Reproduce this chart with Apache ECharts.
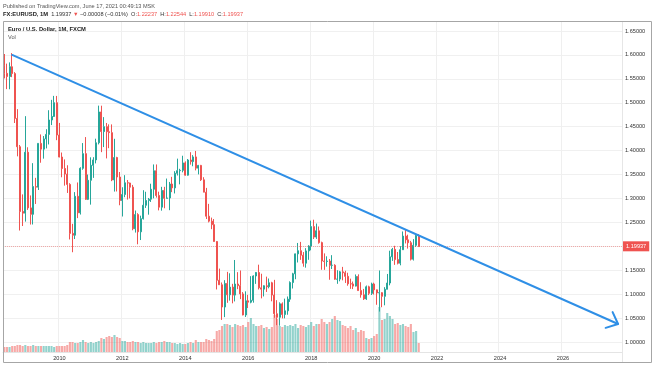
<!DOCTYPE html>
<html><head><meta charset="utf-8">
<script src="https://cdn.jsdelivr.net/npm/echarts@6/dist/echarts.min.js"></script>
<style>html,body{margin:0;padding:0;background:#fff}#c{width:654px;height:366px}</style>
</head><body><div id="c"></div>
<script>
// ---- categories: monthly bars, Apr 2008 .. Nov 2027 (axis runs past the data)
const START_YEAR = 2008, START_MONTH = 4, MONTH_COUNT = 236;
const MONTHS = [];
for (let i = 0; i < MONTH_COUNT; i++) {
  const m = START_MONTH - 1 + i;
  const y = START_YEAR + Math.floor(m / 12);
  const mm = (m % 12) + 1;
  MONTHS.push(y + '-' + (mm < 10 ? '0' : '') + mm);
}
const YEAR_TICKS = ['2010', '2012', '2014', '2016', '2018', '2020', '2022', '2024', '2026'];

// ---- EURUSD monthly OHLC (Apr 2008 .. Jun 2021)
const OPEN = [
  1.5785,1.5615,1.5549,1.5753,1.5610,1.4673,1.4081,1.2728,1.2693,
  1.3967,1.2803,1.2669,1.3249,1.3236,1.4151,1.4031,1.4245,1.4339,1.4640,1.4714,1.5002,
  1.4325,1.3866,1.3626,1.3510,1.3294,1.2270,1.2232,1.3045,1.2700,1.3630,1.3937,1.2981,
  1.3380,1.3693,1.3805,1.4164,1.4808,1.4398,1.4500,1.4395,1.4376,1.3387,1.3855,1.3448,
  1.2957,1.3082,1.3328,1.3323,1.3235,1.2366,1.2663,1.2303,1.2577,1.2858,1.2957,1.2985,
  1.3193,1.3579,1.3062,1.2818,1.3168,1.3003,1.3010,1.3302,1.3221,1.3527,1.3581,1.3588,
  1.3743,1.3487,1.3803,1.3770,1.3868,1.3634,1.3691,1.3390,1.3131,1.2629,1.2526,1.2452,
  1.2100,1.1290,1.1196,1.0731,1.1224,1.0986,1.1147,1.0980,1.1212,1.1177,1.1005,1.0565,
  1.0861,1.0832,1.0871,1.1380,1.1453,1.1132,1.1105,1.1175,1.1157,1.1238,1.0981,1.0590,
  1.0517,1.0798,1.0575,1.0652,1.0895,1.1243,1.1425,1.1842,1.1908,1.1814,1.1647,1.1904,
  1.2005,1.2412,1.2193,1.2324,1.2077,1.1693,1.1683,1.1692,1.1602,1.1604,1.1313,1.1315,
  1.1466,1.1447,1.1372,1.1216,1.1213,1.1168,1.1370,1.1075,1.0987,1.0901,1.1154,1.1017,
  1.1213,1.1090,1.1026,1.1031,1.0955,1.1101,1.1233,1.1780,1.1936,1.1722,1.1646,1.1928,
  1.2214,1.2135,1.2075,1.1730,1.2020,1.22237
];
const HIGH = [
  1.6019,1.5818,1.5844,1.6038,1.5640,1.4867,1.4118,1.3085,1.4720,
  1.4070,1.3063,1.3738,1.3431,1.4152,1.4338,1.4305,1.4447,1.4844,1.5061,1.5144,1.5143,
  1.4579,1.3960,1.3816,1.3694,1.3319,1.2470,1.3133,1.3334,1.3652,1.4158,1.4283,1.3500,
  1.3860,1.3862,1.4249,1.4940,1.4939,1.4700,1.4578,1.4549,1.4548,1.4247,1.3871,1.3553,
  1.3234,1.3487,1.3386,1.3330,1.3283,1.2748,1.2692,1.2640,1.3172,1.3140,1.3010,1.3308,
  1.3711,1.3711,1.3142,1.3243,1.3243,1.3416,1.3345,1.3452,1.3570,1.3832,1.3620,1.3893,
  1.3775,1.3824,1.3967,1.3906,1.3993,1.3701,1.3701,1.3444,1.3221,1.2887,1.2600,1.2570,
  1.2108,1.1534,1.1244,1.1292,1.1466,1.1436,1.1216,1.1714,1.1460,1.1495,1.1043,1.1059,
  1.0986,1.1376,1.1394,1.1464,1.1616,1.1427,1.1185,1.1366,1.1327,1.1258,1.1299,1.0874,
  1.0829,1.0828,1.0906,1.0951,1.1268,1.1446,1.1847,1.2070,1.2092,1.1880,1.1961,1.2023,
  1.2537,1.2556,1.2476,1.2414,1.2097,1.1852,1.1791,1.1734,1.1815,1.1625,1.1500,1.1486,
  1.1570,1.1489,1.1448,1.1324,1.1264,1.1412,1.1414,1.1250,1.1110,1.1180,1.1176,1.1240,
  1.1239,1.1095,1.1495,1.1040,1.1146,1.1422,1.1908,1.1966,1.2011,1.1881,1.2004,1.2310,
  1.2350,1.2243,1.2113,1.2150,1.2266,1.22544
];
const LOW = [
  1.5509,1.5285,1.5282,1.5535,1.4577,1.3880,1.2330,1.2424,1.2516,
  1.2760,1.2455,1.2456,1.2885,1.3177,1.3747,1.3832,1.4046,1.4129,1.4534,1.4703,1.4218,
  1.3859,1.3443,1.3268,1.3115,1.2143,1.1876,1.2152,1.2589,1.2664,1.3600,1.2969,1.2967,
  1.2871,1.3430,1.3733,1.4130,1.3968,1.4074,1.3837,1.4051,1.3362,1.3144,1.3146,1.2858,
  1.2623,1.3026,1.2976,1.3000,1.2335,1.2287,1.2042,1.2131,1.2560,1.2802,1.2661,1.2927,
  1.3003,1.3018,1.2751,1.2745,1.2795,1.3000,1.2755,1.3132,1.3105,1.3480,1.3295,1.3546,
  1.3478,1.3477,1.3707,1.3673,1.3587,1.3503,1.3366,1.3130,1.2571,1.2500,1.2358,1.2099,
  1.1098,1.1196,1.0462,1.0520,1.0819,1.0865,1.0808,1.0848,1.1104,1.0896,1.0557,1.0523,
  1.0710,1.0809,1.0822,1.1215,1.1098,1.0912,1.0952,1.1046,1.1122,1.0851,1.0506,1.0352,
  1.0341,1.0494,1.0494,1.0570,1.0839,1.1118,1.1312,1.1662,1.1717,1.1574,1.1554,1.1718,
  1.1916,1.2153,1.2155,1.2055,1.1510,1.1508,1.1575,1.1301,1.1526,1.1302,1.1216,1.1269,
  1.1289,1.1234,1.1176,1.1111,1.1106,1.1160,1.1072,1.0926,1.0879,1.0880,1.0981,1.0982,
  1.0992,1.0778,1.0636,1.0727,1.0767,1.1101,1.1185,1.1695,1.1612,1.1622,1.1603,1.1925,
  1.2060,1.1952,1.1704,1.1703,1.1986,1.19910
];
const CLOSE = [
  1.5615,1.5549,1.5753,1.5610,1.4673,1.4081,1.2728,1.2693,1.3967,
  1.2803,1.2669,1.3249,1.3236,1.4151,1.4031,1.4245,1.4339,1.4640,1.4714,1.5002,1.4325,
  1.3866,1.3626,1.3510,1.3294,1.2270,1.2232,1.3045,1.2700,1.3630,1.3937,1.2981,1.3380,
  1.3693,1.3805,1.4164,1.4808,1.4398,1.4500,1.4395,1.4376,1.3387,1.3855,1.3448,1.2957,
  1.3082,1.3328,1.3323,1.3235,1.2366,1.2663,1.2303,1.2577,1.2858,1.2957,1.2985,1.3193,
  1.3579,1.3062,1.2818,1.3168,1.3003,1.3010,1.3302,1.3221,1.3527,1.3581,1.3588,1.3743,
  1.3487,1.3803,1.3770,1.3868,1.3634,1.3691,1.3390,1.3131,1.2629,1.2526,1.2452,1.2100,
  1.1290,1.1196,1.0731,1.1224,1.0986,1.1147,1.0980,1.1212,1.1177,1.1005,1.0565,1.0861,
  1.0832,1.0871,1.1380,1.1453,1.1132,1.1105,1.1175,1.1157,1.1238,1.0981,1.0590,1.0517,
  1.0798,1.0575,1.0652,1.0895,1.1243,1.1425,1.1842,1.1908,1.1814,1.1647,1.1904,1.2005,
  1.2412,1.2193,1.2324,1.2077,1.1693,1.1683,1.1692,1.1602,1.1604,1.1313,1.1315,1.1466,
  1.1447,1.1372,1.1216,1.1213,1.1168,1.1370,1.1075,1.0987,1.0901,1.1154,1.1017,1.1213,
  1.1090,1.1026,1.1031,1.0955,1.1101,1.1233,1.1780,1.1936,1.1722,1.1646,1.1928,1.2214,
  1.2135,1.2075,1.1730,1.2020,1.2224,1.19937
];
// relative tick volume
const VOLUME = [
  5,5,5,6,6,7,7,6,7,
  6,6,7,6,6,6,6,6,6,6,5,6,
  6,6,6,7,10,10,9,9,10,12,10,9,
  10,9,10,11,14,13,15,16,15,17,15,14,
  11,11,10,10,11,10,10,9,10,9,9,9,
  10,9,10,10,11,10,10,9,9,8,9,8,
  8,9,10,9,12,10,10,10,13,12,11,13,
  21,22,26,28,28,27,25,28,27,26,27,25,
  30,34,28,26,26,27,24,25,23,25,37,33,
  26,25,27,26,27,26,28,24,27,26,25,27,
  30,26,28,28,33,30,28,30,33,36,32,31,
  27,26,24,26,22,24,20,22,21,14,13,14,
  16,18,45,32,33,39,36,33,28,29,27,28,
  26,25,28,20,21,9
];
const LAST_PRICE = 1.19937;
const TREND = [['2008-07', 1.6000], ['2027-10', 1.0377]];

const UP = '#26a69a', DOWN = '#ef5350';
const UP_VOL = 'rgba(38,166,154,0.5)', DOWN_VOL = 'rgba(239,83,80,0.5)';
const FONT = 'Liberation Sans, Arial, sans-serif';

const candleData = OPEN.map((o, i) => [o, CLOSE[i], LOW[i], HIGH[i]]);
const volData = VOLUME.map((v, i) => ({
  value: v,
  itemStyle: { color: CLOSE[i] >= OPEN[i] ? UP_VOL : DOWN_VOL }
}));
const trendData = [[MONTHS.indexOf(TREND[0][0]), TREND[0][1], MONTHS.indexOf(TREND[1][0]), TREND[1][1]]];

const isYearTick = (idx, val) => YEAR_TICKS.indexOf(val.slice(0, 4)) >= 0 && val.slice(5) === '01';

const chart = echarts.init(document.getElementById('c'), null, { renderer: 'canvas' });
chart.setOption({
  animation: false,
  backgroundColor: '#fff',
  textStyle: { fontFamily: FONT },
  grid: [
    { left: 3, right: 32, top: 21, bottom: 14 },
    { left: 3, right: 32, bottom: 14, height: 100 }
  ],
  xAxis: [
    { type: 'category', gridIndex: 0, data: MONTHS, boundaryGap: true,
      axisLine: { show: false }, axisTick: { show: false }, axisLabel: { show: false },
      splitLine: { show: true, interval: isYearTick, lineStyle: { color: '#efefef', width: 1 } } },
    { type: 'category', gridIndex: 1, data: MONTHS, boundaryGap: true,
      axisLine: { show: true, lineStyle: { color: '#e4e4e4' } }, axisTick: { show: false },
      axisLabel: { show: true, interval: isYearTick, formatter: v => v.slice(0, 4),
        fontSize: 5.6, color: '#333', margin: 3, fontFamily: FONT },
      splitLine: { show: false } }
  ],
  yAxis: [
    { type: 'value', gridIndex: 0, position: 'right', min: 0.9791, max: 1.6709, splitNumber: 14,
      axisLine: { show: false }, axisTick: { show: false },
      axisLabel: { fontSize: 5.6, color: '#333', margin: 3, fontFamily: FONT,
        formatter: v => (Math.abs(v * 20 - Math.round(v * 20)) > 1e-6 ? '' : v.toFixed(5)) },
      splitLine: { show: true, lineStyle: { color: '#f0f0f0', width: 1 } } },
    { type: 'value', gridIndex: 1, min: 0, max: 100, show: false }
  ],
  series: [
    { type: 'bar', xAxisIndex: 1, yAxisIndex: 1, data: volData, barWidth: '80%', z: 1, silent: true },
    { type: 'candlestick', xAxisIndex: 0, yAxisIndex: 0, data: candleData, z: 3,
      barWidth: 1.5,
      itemStyle: { color: UP, color0: DOWN, borderColor: UP, borderColor0: DOWN, borderWidth: 1 },
      markLine: {
        silent: true, symbol: ['none', 'none'], animation: false,
        data: [{ yAxis: LAST_PRICE }],
        lineStyle: { color: 'rgba(239,83,80,0.45)', type: 'dotted', width: 1 },
        label: { position: 'end', formatter: LAST_PRICE.toFixed(5), backgroundColor: DOWN,
          color: '#fff', fontSize: 5.6, padding: [2, 3], distance: 1, fontFamily: FONT }
      } },
    { type: 'custom', xAxisIndex: 0, yAxisIndex: 0, z: 5, silent: true,
      data: trendData, dimensions: ['x0', 'y0', 'x1', 'y1'],
      encode: { x: [0, 2], y: [1, 3] },
      renderItem: function (params, api) {
        const p0 = api.coord([api.value(0), api.value(1)]);
        const p1 = api.coord([api.value(2), api.value(3)]);
        const ang = Math.atan2(p0[1] - p1[1], p0[0] - p1[0]);
        const L = 13, spread = 0.72;
        const a1 = [p1[0] + L * Math.cos(ang + spread), p1[1] + L * Math.sin(ang + spread)];
        const a2 = [p1[0] + L * Math.cos(ang - spread), p1[1] + L * Math.sin(ang - spread)];
        const st = { stroke: '#2f8fe6', lineWidth: 2, fill: 'none', lineCap: 'round', lineJoin: 'round' };
        return { type: 'group', children: [
          { type: 'polyline', shape: { points: [p0, p1] }, style: st },
          { type: 'polyline', shape: { points: [a1, p1, a2] }, style: st }
        ] };
      } }
  ],
  graphic: [
    { type: 'rect', z: 10, silent: true, shape: { x: 3.5, y: 21.5, width: 648, height: 341 },
      style: { fill: 'none', stroke: '#a6a6a6', lineWidth: 1 } },
    { type: 'line', z: 10, silent: true, shape: { x1: 622.5, y1: 22, x2: 622.5, y2: 362 },
      style: { stroke: '#e6e6e6', lineWidth: 1 } },
    { type: 'text', z: 10, silent: true, style: { x: 3, y: 6, verticalAlign: 'middle',
      text: 'Published on TradingView.com, June 17, 2021 00:49:13 MSK',
      font: '5.6px ' + FONT, fill: '#555' } },
    { type: 'text', z: 10, silent: true, style: { x: 3, y: 14.5, verticalAlign: 'middle',
      text: '{b|FX:EURUSD, 1M}  1.19937 {r|▼} −0.00008 (−0.01%)  O:{r|1.22237}  H:{r|1.22544}  L:{r|1.19910}  C:{r|1.19937}',
      font: '5.6px ' + FONT, fill: '#333',
      rich: { b: { fontWeight: 'bold', fontSize: 5.8, fill: '#222', fontFamily: FONT },
              r: { fill: DOWN, fontSize: 5.6, fontFamily: FONT } } } },
    { type: 'text', z: 10, silent: true, style: { x: 8, y: 29.5, verticalAlign: 'middle',
      text: 'Euro / U.S. Dollar, 1M, FXCM', font: 'bold 5.8px ' + FONT, fill: '#222' } },
    { type: 'text', z: 10, silent: true, style: { x: 8, y: 37, verticalAlign: 'middle',
      text: 'Vol', font: '5.6px ' + FONT, fill: '#555' } }
  ]
});
</script></body></html>
